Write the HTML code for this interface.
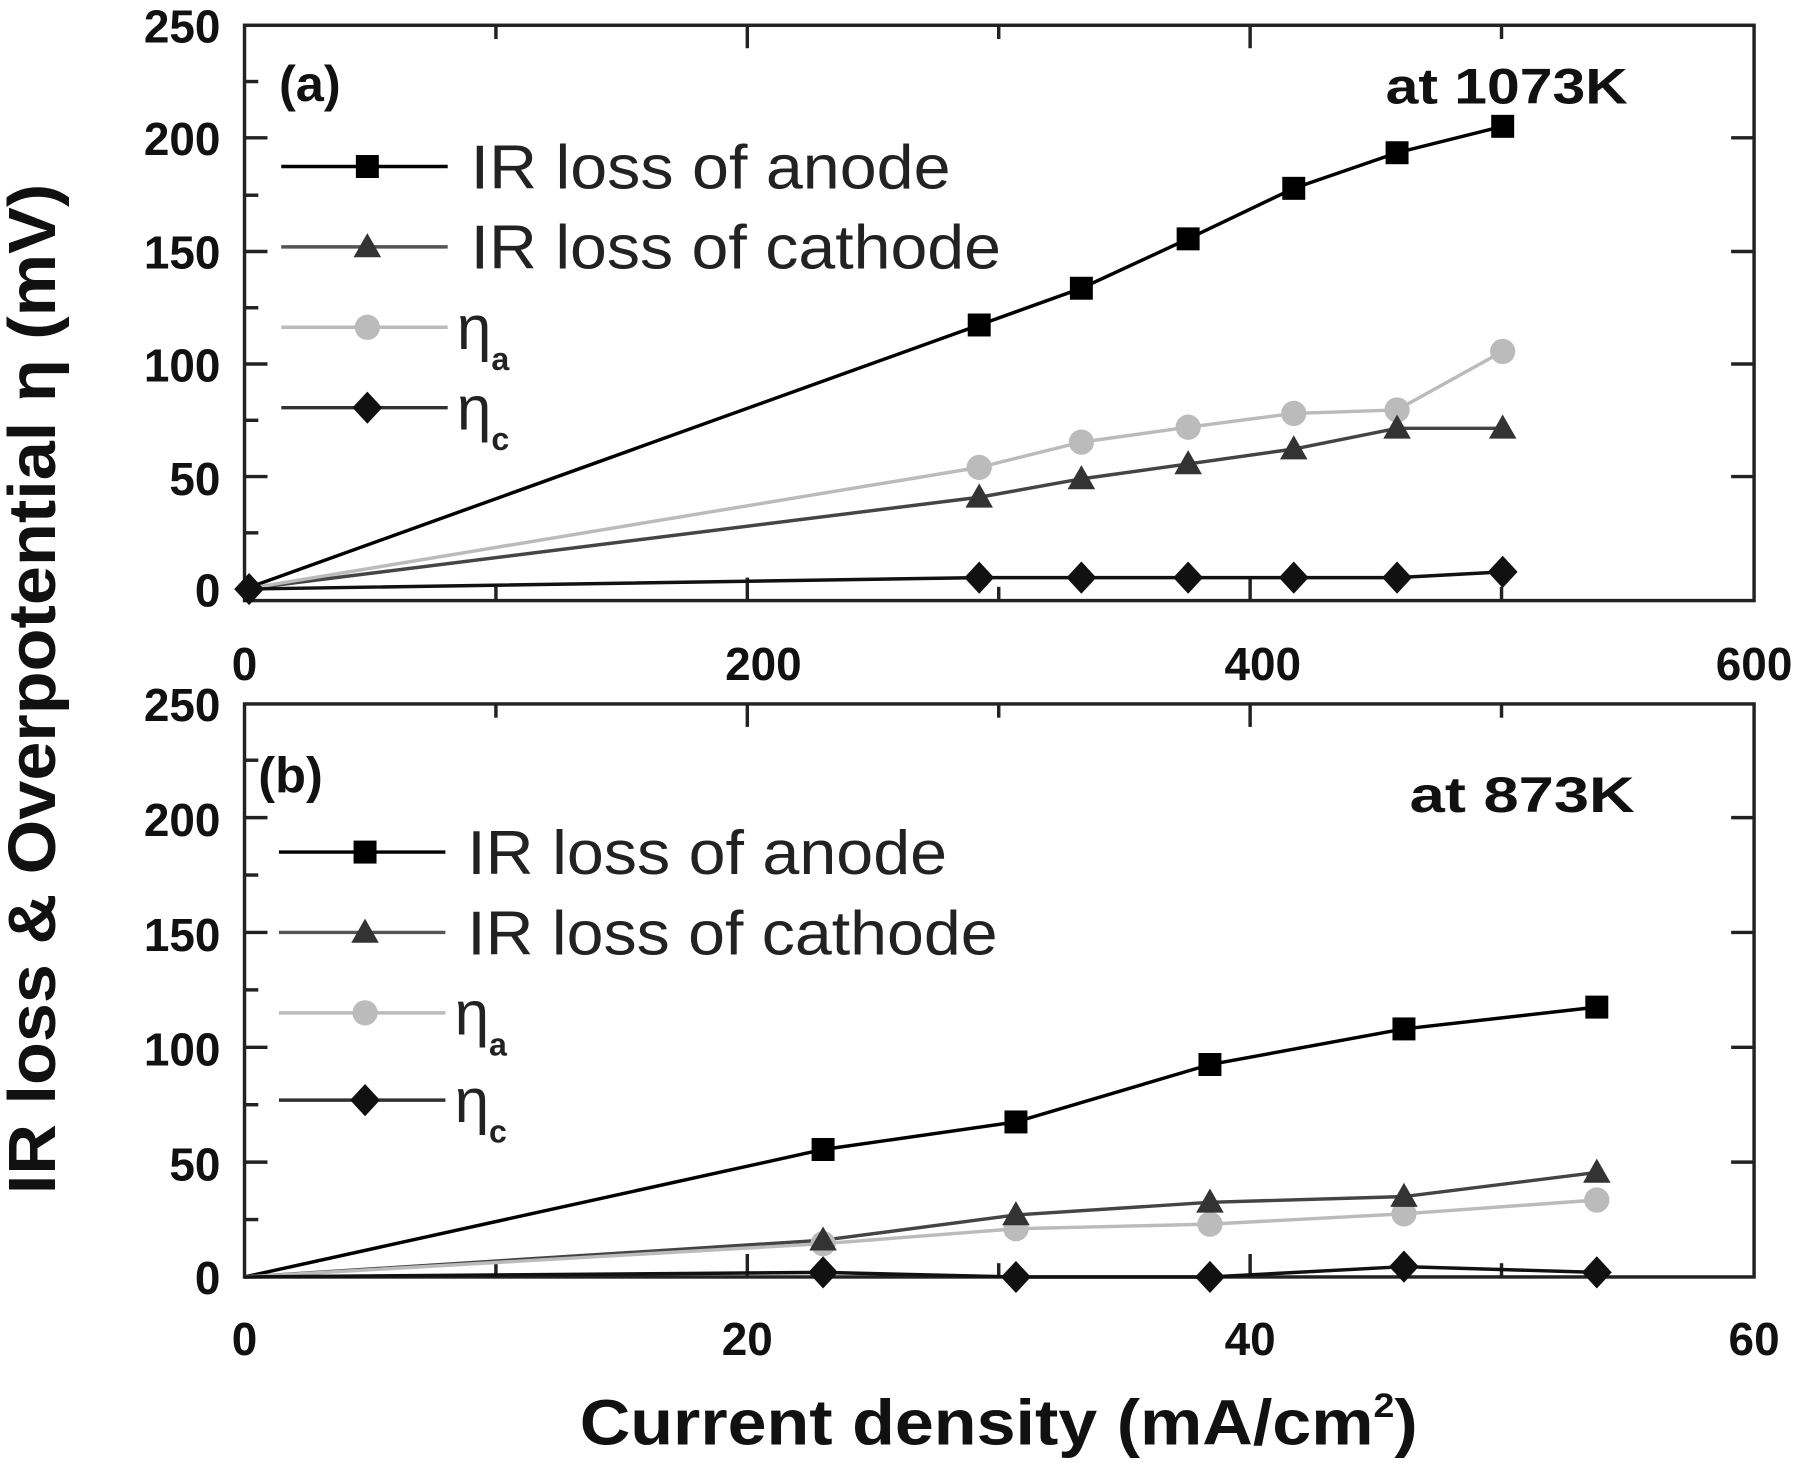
<!DOCTYPE html>
<html><head><style>
html,body{margin:0;padding:0;background:#fff}
svg{display:block}
text{font-family:"Liberation Sans",Arial,sans-serif}
</style></head><body>
<svg width="1800" height="1463" viewBox="0 0 1568 1274" preserveAspectRatio="none">
<defs>
<rect id="sq" x="-10" y="-10" width="20" height="20" fill="#000"/>
<path id="tr" d="M0,-12 L12,9 L-12,9 Z" fill="#333"/>
<circle id="ci" r="11" fill="#bbb"/>
<path id="di" d="M0,-14 L13,0 L0,14 L-13,0 Z" fill="#111"/>
</defs>
<g stroke="#222" stroke-width="3" fill="none">
<rect x="213" y="22" width="1315" height="501"/>
<rect x="213" y="613" width="1315" height="499"/>
</g>
<g stroke="#222" stroke-width="3">
<line x1="651" y1="523" x2="651" y2="503"/><line x1="1089" y1="523" x2="1089" y2="503"/>
<line x1="432" y1="523" x2="432" y2="511"/><line x1="870" y1="523" x2="870" y2="511"/><line x1="1308" y1="523" x2="1308" y2="511"/>
<line x1="651" y1="22" x2="651" y2="42"/><line x1="1089" y1="22" x2="1089" y2="42"/>
<line x1="432" y1="22" x2="432" y2="34"/><line x1="870" y1="22" x2="870" y2="34"/><line x1="1308" y1="22" x2="1308" y2="34"/>
<line x1="213" y1="415" x2="233" y2="415"/><line x1="213" y1="317" x2="233" y2="317"/><line x1="213" y1="219" x2="233" y2="219"/><line x1="213" y1="120" x2="233" y2="120"/>
<line x1="213" y1="464" x2="225" y2="464"/><line x1="213" y1="366" x2="225" y2="366"/><line x1="213" y1="268" x2="225" y2="268"/><line x1="213" y1="170" x2="225" y2="170"/><line x1="213" y1="71" x2="225" y2="71"/>
<line x1="1528" y1="415" x2="1508" y2="415"/><line x1="1528" y1="317" x2="1508" y2="317"/><line x1="1528" y1="219" x2="1508" y2="219"/><line x1="1528" y1="120" x2="1508" y2="120"/>
<line x1="651" y1="1112" x2="651" y2="1092"/><line x1="1089" y1="1112" x2="1089" y2="1092"/>
<line x1="432" y1="1112" x2="432" y2="1100"/><line x1="870" y1="1112" x2="870" y2="1100"/><line x1="1308" y1="1112" x2="1308" y2="1100"/>
<line x1="651" y1="613" x2="651" y2="633"/><line x1="1089" y1="613" x2="1089" y2="633"/>
<line x1="432" y1="613" x2="432" y2="625"/><line x1="870" y1="613" x2="870" y2="625"/><line x1="1308" y1="613" x2="1308" y2="625"/>
<line x1="213" y1="1012" x2="233" y2="1012"/><line x1="213" y1="912" x2="233" y2="912"/><line x1="213" y1="812" x2="233" y2="812"/><line x1="213" y1="712" x2="233" y2="712"/>
<line x1="213" y1="1062" x2="225" y2="1062"/><line x1="213" y1="962" x2="225" y2="962"/><line x1="213" y1="862" x2="225" y2="862"/><line x1="213" y1="762" x2="225" y2="762"/><line x1="213" y1="662" x2="225" y2="662"/>
<line x1="1528" y1="1012" x2="1508" y2="1012"/><line x1="1528" y1="912" x2="1508" y2="912"/><line x1="1528" y1="812" x2="1508" y2="812"/><line x1="1528" y1="712" x2="1508" y2="712"/>
</g>
<g font-size="40" font-weight="bold" fill="#111" text-anchor="end">
<text x="192" y="528">0</text><text x="192" y="431">50</text><text x="192" y="332">100</text><text x="192" y="234">150</text><text x="192" y="135">200</text><text x="192" y="37">250</text>
<text x="192" y="1127">0</text><text x="192" y="1028">50</text><text x="192" y="928">100</text><text x="192" y="828">150</text><text x="192" y="728">200</text><text x="192" y="628">250</text>
</g>
<g font-size="40" font-weight="bold" fill="#111" text-anchor="middle">
<text x="213" y="592">0</text><text x="665" y="592">200</text><text x="1100" y="592">400</text><text x="1528" y="592">600</text>
<text x="213" y="1180">0</text><text x="651" y="1180">20</text><text x="1089" y="1180">40</text><text x="1528" y="1180">60</text>
</g>
<text x="870" y="1258" font-size="56" font-weight="bold" text-anchor="middle" fill="#111" textLength="730" lengthAdjust="spacingAndGlyphs">Current density (mA/cm<tspan dy="-24" font-size="30">2</tspan><tspan dy="24">)</tspan></text>
<text transform="translate(48,600) rotate(-90)" font-size="58" font-weight="bold" text-anchor="middle" fill="#111" textLength="880" lengthAdjust="spacingAndGlyphs">IR loss &amp; Overpotential η (mV)</text>
<g font-size="44" font-weight="bold" fill="#111">
<text x="243" y="88">(a)</text><text x="1207" y="90" textLength="211" lengthAdjust="spacingAndGlyphs">at 1073K</text>
<text x="225" y="690">(b)</text><text x="1228" y="707" textLength="196" lengthAdjust="spacingAndGlyphs">at  873K</text>
</g>
<g fill="none" stroke-width="3">
<polyline stroke="#000" points="213,513 853,283 942,251 1035,208 1127,164 1217,133 1309,110"/>
<polyline stroke="#444" points="213,513 853,433 942,417 1035,404 1127,391 1217,373 1309,373"/>
<polyline stroke="#bbb" points="213,513 853,407 942,385 1035,372 1127,360 1217,357 1309,306"/>
<polyline stroke="#111" points="213,513 853,503 942,503 1035,503 1127,503 1217,503 1309,498"/>
</g>
<g>
<use href="#sq" x="853" y="283"/><use href="#sq" x="942" y="251"/><use href="#sq" x="1035" y="208"/><use href="#sq" x="1127" y="164"/><use href="#sq" x="1217" y="133"/><use href="#sq" x="1309" y="110"/>
<use href="#ci" x="853" y="407"/><use href="#ci" x="942" y="385"/><use href="#ci" x="1035" y="372"/><use href="#ci" x="1127" y="360"/><use href="#ci" x="1217" y="357"/><use href="#ci" x="1309" y="306"/>
<use href="#tr" x="853" y="433"/><use href="#tr" x="942" y="417"/><use href="#tr" x="1035" y="404"/><use href="#tr" x="1127" y="391"/><use href="#tr" x="1217" y="373"/><use href="#tr" x="1309" y="373"/>
<use href="#di" x="853" y="503"/><use href="#di" x="942" y="503"/><use href="#di" x="1035" y="503"/><use href="#di" x="1127" y="503"/><use href="#di" x="1217" y="503"/><use href="#di" x="1309" y="498"/>
<use href="#di" x="217" y="513"/>
</g>
<g fill="none" stroke-width="3">
<polyline stroke="#000" points="213,1112 717,1001 885,977 1054,927 1223,896 1391,877"/>
<polyline stroke="#444" points="213,1112 717,1080 885,1058 1054,1047 1223,1042 1391,1021"/>
<polyline stroke="#bbb" points="213,1112 717,1083 885,1070 1054,1066 1223,1057 1391,1045"/>
<polyline stroke="#111" points="213,1112 717,1108 885,1112 1054,1112 1223,1103 1391,1108"/>
</g>
<g>
<use href="#sq" x="717" y="1001"/><use href="#sq" x="885" y="977"/><use href="#sq" x="1054" y="927"/><use href="#sq" x="1223" y="896"/><use href="#sq" x="1391" y="877"/>
<use href="#ci" x="717" y="1083"/><use href="#ci" x="885" y="1070"/><use href="#ci" x="1054" y="1066"/><use href="#ci" x="1223" y="1057"/><use href="#ci" x="1391" y="1045"/>
<use href="#tr" x="717" y="1080"/><use href="#tr" x="885" y="1058"/><use href="#tr" x="1054" y="1047"/><use href="#tr" x="1223" y="1042"/><use href="#tr" x="1391" y="1021"/>
<use href="#di" x="717" y="1108"/><use href="#di" x="885" y="1112"/><use href="#di" x="1054" y="1112"/><use href="#di" x="1223" y="1103"/><use href="#di" x="1391" y="1108"/>
</g>
<g stroke-width="3">
<line x1="245" y1="145" x2="390" y2="145" stroke="#000"/><line x1="245" y1="215" x2="390" y2="215" stroke="#555"/>
<line x1="245" y1="285" x2="390" y2="285" stroke="#bbb"/><line x1="245" y1="355" x2="390" y2="355" stroke="#333"/>
<line x1="243" y1="742" x2="388" y2="742" stroke="#000"/><line x1="243" y1="812" x2="388" y2="812" stroke="#555"/>
<line x1="243" y1="882" x2="388" y2="882" stroke="#bbb"/><line x1="243" y1="958" x2="388" y2="958" stroke="#333"/>
</g>
<use href="#sq" x="320" y="145"/><use href="#tr" x="320" y="215"/><use href="#ci" x="320" y="285"/><use href="#di" x="320" y="355"/>
<use href="#sq" x="318" y="742"/><use href="#tr" x="318" y="812"/><use href="#ci" x="318" y="882"/><use href="#di" x="318" y="958"/>
<g font-size="54" fill="#222">
<text x="410" y="164" textLength="418" lengthAdjust="spacingAndGlyphs">IR loss of anode</text><text x="410" y="234" textLength="462" lengthAdjust="spacingAndGlyphs">IR loss of cathode</text>
<text x="398" y="304">η<tspan dy="18" font-size="28" font-weight="bold">a</tspan></text>
<text x="398" y="374">η<tspan dy="18" font-size="28" font-weight="bold">c</tspan></text>
<text x="407" y="761" textLength="418" lengthAdjust="spacingAndGlyphs">IR loss of anode</text><text x="407" y="831" textLength="462" lengthAdjust="spacingAndGlyphs">IR loss of cathode</text>
<text x="396" y="901">η<tspan dy="18" font-size="28" font-weight="bold">a</tspan></text>
<text x="396" y="977">η<tspan dy="18" font-size="28" font-weight="bold">c</tspan></text>
</g>
</svg>
</body></html>
